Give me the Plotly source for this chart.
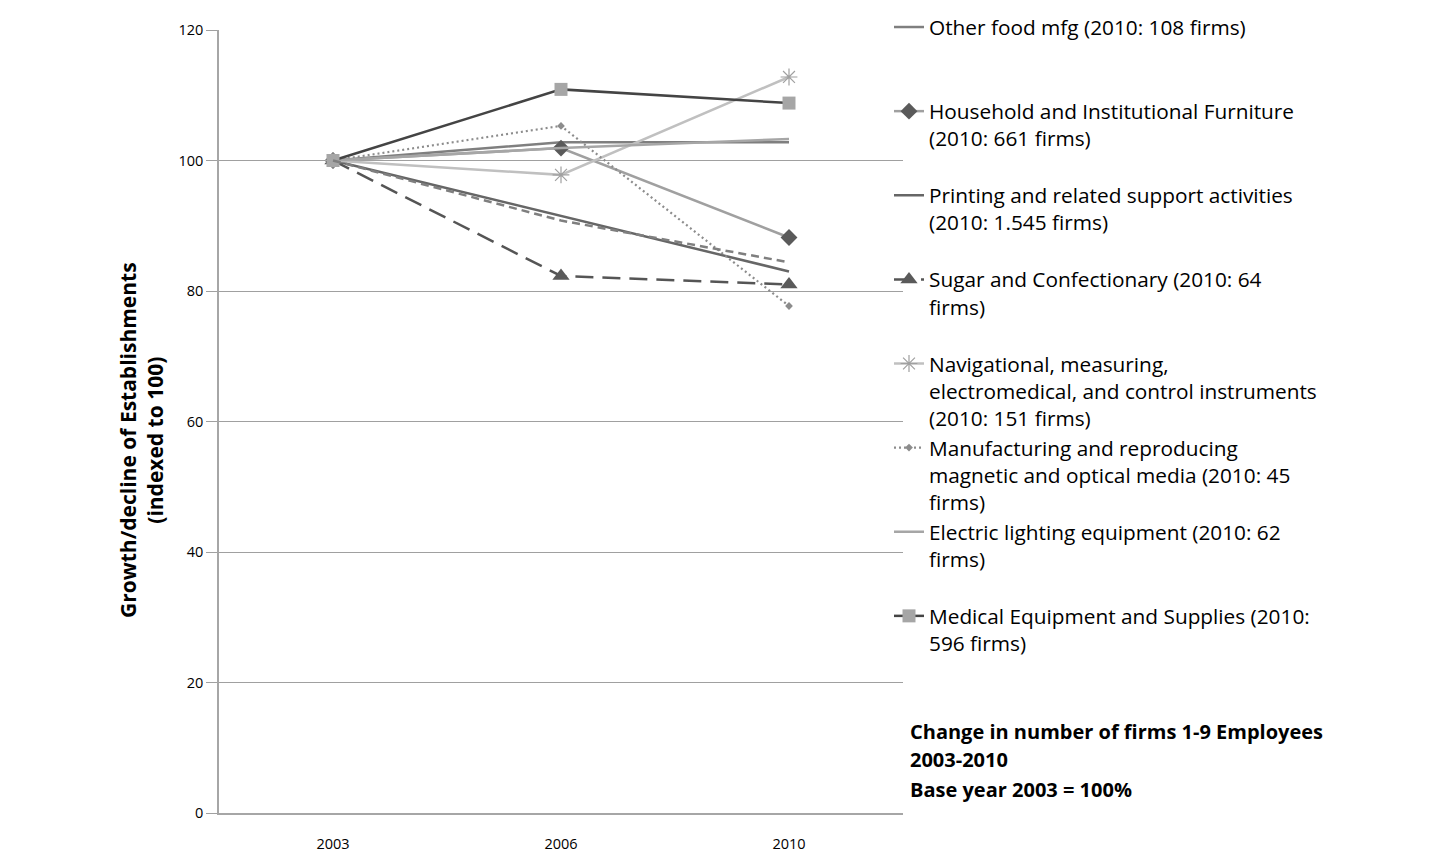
import plotly.graph_objects as go

categories = ["2003", "2006", "2010"]

other_food = [100, 102.8, 102.8]
household = [100, 101.9, 88.2]
printing = [100, 91.5, 83.0]
sugar = [100, 82.3, 81.0]
navigational = [100, 97.8, 112.8]
magnetic = [100, 105.3, 77.7]
electric = [100, 101.9, 103.3]
medical = [100, 110.9, 108.8]
unlisted = [100, 90.8, 84.4]

names = {
    "other_food": "Other food mfg (2010: 108 firms)",
    "household": "Household and Institutional Furniture<br>(2010: 661 firms)",
    "printing": "Printing and related support activities<br>(2010: 1.545 firms)",
    "sugar": "Sugar and Confectionary (2010: 64<br>firms)",
    "navigational": "Navigational, measuring,<br>electromedical, and control instruments<br>(2010: 151 firms)",
    "magnetic": "Manufacturing and reproducing<br>magnetic and optical media (2010: 45<br>firms)",
    "electric": "Electric lighting equipment (2010: 62<br>firms)",
    "medical": "Medical Equipment and Supplies (2010:<br>596 firms)",
}


def pad(label):
    n = label.count("<br>") + 1
    return label + "<br>\u00a0" * (3 - n)


FONT = "Open Sans"

fig = go.Figure()

fig.add_trace(go.Scatter(x=categories, y=other_food, name=pad(names["other_food"]), mode="lines",
                         line=dict(color="#7f7f7f", width=2.5)))
fig.add_trace(go.Scatter(x=categories, y=household, name=pad(names["household"]), mode="lines+markers",
                         line=dict(color="#a0a0a0", width=2.5),
                         marker=dict(symbol="diamond", size=13, color="#5a5a5a")))
fig.add_trace(go.Scatter(x=categories, y=printing, name=pad(names["printing"]), mode="lines",
                         line=dict(color="#666666", width=2.5)))
fig.add_trace(go.Scatter(x=categories, y=sugar, name=pad(names["sugar"]), mode="lines+markers",
                         line=dict(color="#555555", width=2.5, dash="18px,9px"),
                         marker=dict(symbol="triangle-up", size=15, color="#5a5a5a")))
fig.add_trace(go.Scatter(x=categories, y=navigational, name=pad(names["navigational"]), mode="lines+markers",
                         line=dict(color="#c0c0c0", width=2.5),
                         marker=dict(symbol="asterisk-open", size=14, color="#a0a0a0", line=dict(width=1.2, color="#a0a0a0"))))
fig.add_trace(go.Scatter(x=categories, y=magnetic, name=pad(names["magnetic"]), mode="lines+markers",
                         line=dict(color="#8c8c8c", width=2.2, dash="2px,3px"),
                         marker=dict(symbol="diamond", size=6, color="#8c8c8c")))
fig.add_trace(go.Scatter(x=categories, y=electric, name=pad(names["electric"]), mode="lines",
                         line=dict(color="#a6a6a6", width=2.5)))
fig.add_trace(go.Scatter(x=categories, y=medical, name=pad(names["medical"]), mode="lines+markers",
                         line=dict(color="#444444", width=2.5),
                         marker=dict(symbol="square", size=13, color="#a6a6a6")))
fig.add_trace(go.Scatter(x=categories, y=unlisted, name="", mode="lines", showlegend=False,
                         line=dict(color="#7f7f7f", width=2.5, dash="8px,5px")))

fig.update_layout(
    width=1436, height=867,
    margin=dict(l=219, r=533, t=30, b=54, autoexpand=False),
    paper_bgcolor="white", plot_bgcolor="white",
    font=dict(family=FONT, color="#000000"),
    showlegend=True,
    legend=dict(
        x=(889 - 219) / 684, xanchor="left",
        y=1 + (30 - 7) / 783, yanchor="top",
        bgcolor="rgba(0,0,0,0)",
        font=dict(family=FONT, size=20.8, color="#000000"),
        valign="top", tracegroupgap=0, itemwidth=30,
        maxheight=860,
    ),
    xaxis=dict(type="category", range=[-0.5, 2.5], showgrid=False, showline=True,
               linecolor="#a6a6a6", linewidth=1.5, ticks="", ticklabelstandoff=17,
               tickfont=dict(family=FONT, size=14.5, color="#000000")),
    yaxis=dict(range=[0, 120], dtick=20, showgrid=True, gridcolor="#a0a0a0", gridwidth=1,
               showline=True, linecolor="#a6a6a6", linewidth=1.5, zeroline=False,
               ticks="outside", ticklen=11, tickcolor="#a0a0a0",
               tickfont=dict(family=FONT, size=14.5, color="#000000")),
)

fig.add_annotation(text="<b>Growth/decline of Establishments<br>(indexed to 100)</b>",
                   xref="paper", yref="paper", x=(141 - 219) / 684, y=(813 - 440) / 783,
                   xanchor="center", yanchor="middle", textangle=-90, showarrow=False,
                   font=dict(family=FONT, size=21, color="#000000"))

for i, (txt, yy) in enumerate([("Change in number of firms 1-9 Employees", 731),
                               ("2003-2010", 759),
                               ("Base year 2003 = 100%", 789)]):
    fig.add_annotation(text="<b>" + txt + "</b>", xref="paper", yref="paper",
                       x=(908 - 219) / 684, y=(813 - yy) / 783, xanchor="left", yanchor="middle",
                       showarrow=False, font=dict(family=FONT, size=20, color="#000000"))

fig.write_html("out.html")
